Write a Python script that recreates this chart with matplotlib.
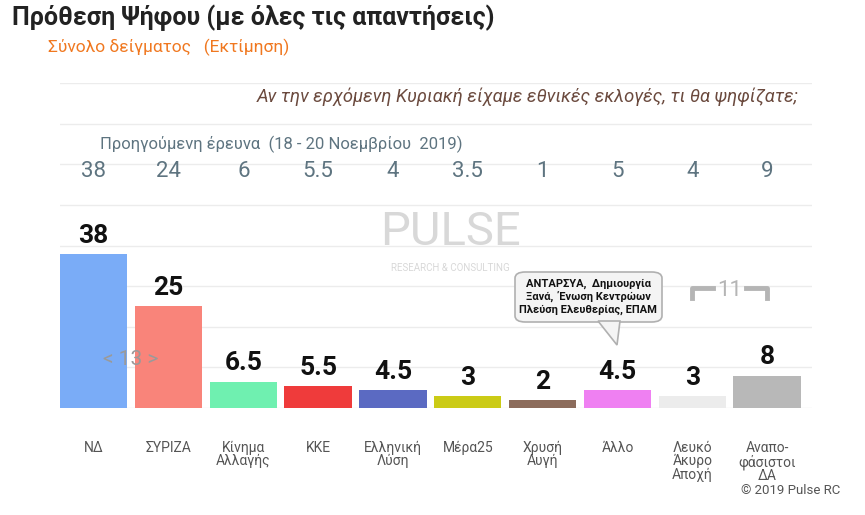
import matplotlib
matplotlib.use("Agg")
import matplotlib.pyplot as plt
from matplotlib.patches import FancyBboxPatch, Polygon

parties = ["ΝΔ", "ΣΥΡΙΖΑ", "Κίνημα\nΑλλαγής", "ΚΚΕ", "Ελληνική\nΛύση", "Μέρα25",
           "Χρυσή\nΑυγή", "Άλλο", "Λευκό\nΆκυρο\nΑποχή", "Αναπο-\nφάσιστοι\nΔΑ"]
values = [38, 25, 6.5, 5.5, 4.5, 3, 2, 4.5, 3, 8]
value_labels = ["38", "25", "6.5", "5.5", "4.5", "3", "2", "4.5", "3", "8"]
previous = ["38", "24", "6", "5.5", "4", "3.5", "1", "5", "4", "9"]
colors = ["#7aacf7", "#f9847a", "#6ff0b0", "#ef3b3b", "#5b6ac2", "#cbcb16",
          "#8c6c5c", "#ef80f2", "#ececec", "#b8b8b8"]

plt.rcParams['font.family'] = ['Roboto', 'DejaVu Sans']
fig = plt.figure(figsize=(8.65, 5.15), dpi=100)
W, H = 865, 515
ax = fig.add_axes([60/W, 1-408/H, (812-60)/W, (408-83)/H])
x = list(range(len(values)))
ax.bar(x, values, width=0.9, color=colors, zorder=2)
ax.set_xlim(-0.45, 9.6)
ax.set_ylim(0, 80)
for s in ax.spines.values():
    s.set_visible(False)
ax.set_yticks(range(0, 81, 10))
ax.yaxis.grid(True, color="#ececec", lw=1)
ax.tick_params(left=False, labelleft=False, bottom=False)
ax.set_xticks(x)
ax.set_xticklabels(parties, fontsize=10, color="#555555", va="top", linespacing=0.95)
ax.tick_params(axis='x', pad=20)
for xi, v, lab in zip(x, values, value_labels):
    ax.text(xi, v + 1.5, lab, ha="center", va="bottom", fontsize=19,
            fontweight="bold", color="#111111", zorder=3)
for xi, p in zip(x, previous):
    ax.text(xi, 58.3, p, ha="center", va="center", fontsize=16, color="#5e7480")
ax.text(0.08, 64.8, "Προηγούμενη έρευνα  (18 - 20 Νοεμβρίου  2019)", fontsize=12,
        color="#5e7480", va="center")

# watermark
fig.text(450/W, 1-232/H, "PULSE", fontsize=34, color="#d8d8d8", ha="center", va="center")
fig.text(450/W, 1-268/H, "RESEARCH & CONSULTING", fontsize=7, color="#d8d8d8",
         ha="center", va="center")

# annotations
ax.text(0.5, 12, "< 13 >", ha="center", va="center", fontsize=15, color="#9a9a9a", zorder=4)
ax.text(8.5, 29, "11", ha="center", va="center", fontsize=16, color="#b5b5b5")
ax.plot([8.0, 8.0, 8.28], [27, 29.5, 29.5], color="#b5b5b5", lw=3.5)
ax.plot([8.72, 9.0, 9.0], [29.5, 29.5, 27], color="#b5b5b5", lw=3.5)

# callout
bx0, by0, bw, bh = 515/W, 1-322/H, (662-515)/W, (322-272)/H
fig.patches.append(FancyBboxPatch((bx0, by0), bw, bh, boxstyle="round,pad=0,rounding_size=0.012",
                                  transform=fig.transFigure, fc="#f4f4f4", ec="#b0b0b0", lw=1.2))
fig.patches.append(Polygon([[598/W, 1-321/H], [620/W, 1-321/H], [617/W, 1-345/H]],
                           closed=True, transform=fig.transFigure, fc="#f4f4f4", ec="#b0b0b0", lw=1.2))
fig.text(588/W, 1-297/H, "ΑΝΤΑΡΣΥΑ,  Δημιουργία\nΞανά,  Ένωση Κεντρώων\nΠλεύση Ελευθερίας, ΕΠΑΜ",
         fontsize=8, fontweight="bold", ha="center", va="center", color="#111111", linespacing=1.3)

# header
fig.text(12/W, 1-18/H, "Πρόθεση Ψήφου (με όλες τις απαντήσεις)", fontsize=18,
         fontweight="bold", color="#222222", va="center")
fig.text(48/W, 1-47/H, "Σύνολο δείγματος   (Εκτίμηση)", fontsize=12.5,
         color="#f07820", va="center")
fig.text(798/W, 1-97/H, "Αν την ερχόμενη Κυριακή είχαμε εθνικές εκλογές, τι θα ψηφίζατε;",
         fontsize=13.2, style="italic", color="#6b4a3e", ha="right", va="center")
fig.text(840/W, 1-490/H, "© 2019 Pulse RC", fontsize=9.5, color="#555555", ha="right", va="center")

fig.savefig("out.png", dpi=100, facecolor="white")
